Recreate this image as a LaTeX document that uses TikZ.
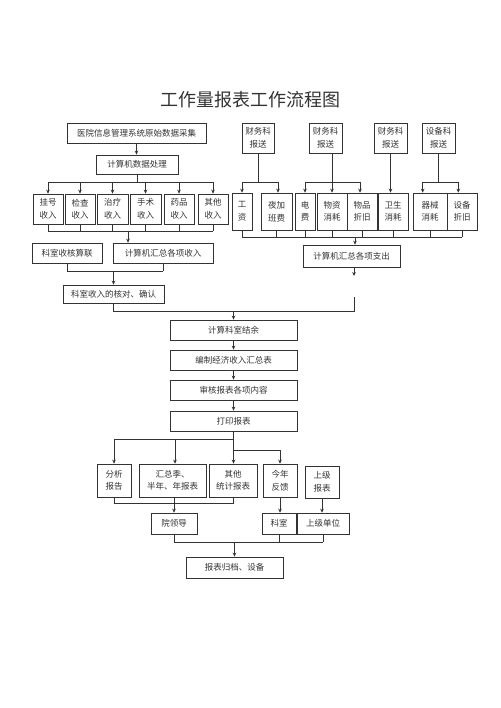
\documentclass[tikz,border=0pt]{standalone}
\usepackage{fontspec}
\newfontfamily\cjk{Noto Sans CJK SC}
\usetikzlibrary{arrows.meta}
\definecolor{ink}{gray}{0.2}
\tikzset{
  box/.style={draw=ink, line width=0.7pt, inner sep=0pt, align=center, text=ink,
    font=\cjk\fontsize{8.5}{12.5}\selectfont},
  arr/.style={-{Stealth[length=4pt,width=3.6pt]}}
}
\newcommand\mkbox[6]{\node[box,minimum width={(#4-#2)*1pt},minimum height={(#5-#3)*1pt}] (#1) at ({(#2+#4)/2},{(#3+#5)/2}) {#6};}
\begin{document}
\begin{tikzpicture}[x=1pt,y=-1pt,color=ink,line width=0.7pt]
\useasboundingbox (0,0) rectangle (500,708);
\node[text=ink, font=\cjk\fontsize{18}{20}\selectfont] (title) at (250,100) {工作量报表工作流程图};

% left income part
\mkbox{A}{67}{123}{206}{143}{医院信息管理系统原始数据采集}
\mkbox{B}{96}{155}{178}{174}{计算机数据处理}
\mkbox{i1}{33}{194}{63}{224}{挂号\\收入}
\mkbox{i2}{65}{194}{95}{224}{检查\\收入}
\mkbox{i3}{97}{194}{128}{224}{治疗\\收入}
\mkbox{i4}{130}{194}{161}{224}{手术\\收入}
\mkbox{i5}{164}{194}{194}{224}{药品\\收入}
\mkbox{i6}{198}{194}{228}{224}{其他\\收入}
\mkbox{k1}{32}{243}{102}{263}{科室收核算联}
\mkbox{k2}{113}{243}{213}{263}{计算机汇总各项收入}
\mkbox{k3}{63}{285}{164}{303}{科室收入的核对、确认}

% right expense part
\mkbox{f1}{242}{123}{274}{153}{财务科\\报送}
\mkbox{f2}{309}{123}{342}{153}{财务科\\报送}
\mkbox{f3}{374}{123}{407}{153}{财务科\\报送}
\mkbox{f4}{422}{123}{455}{153}{设备科\\报送}
\mkbox{e1}{232}{193}{252}{230}{工\\资}
\mkbox{e2}{261}{193}{292}{230}{夜加\\班费}
\mkbox{e3}{295}{193}{315}{230}{电\\费}
\mkbox{e4}{317}{193}{347}{230}{物资\\消耗}
\mkbox{e5}{347}{193}{377}{230}{物品\\折旧}
\mkbox{e6}{378}{193}{408}{230}{卫生\\消耗}
\mkbox{e7}{413}{193}{447}{230}{器械\\消耗}
\mkbox{e8}{447}{193}{477}{230}{设备\\折旧}
\mkbox{s1}{303}{245}{400}{267}{计算机汇总各项支出}
\coordinate (s1end) at (354,276);

% central chain
\mkbox{c1}{170}{320}{297}{340}{计算科室结余}
\mkbox{c2}{170}{350}{297}{370}{编制经济收入汇总表}
\mkbox{c3}{170}{380}{297}{400}{审核报表各项内容}
\mkbox{c4}{170}{411}{297}{431}{打印报表}

% report part
\mkbox{d1}{97}{464}{131}{497}{分析\\报告}
\mkbox{d2}{139}{464}{206}{497}{汇总季、\\半年、年报表}
\mkbox{d3}{209}{464}{257}{497}{其他\\统计报表}
\mkbox{d4}{263}{464}{297}{497}{今年\\反馈}
\mkbox{d5}{305}{466}{339}{498}{上级\\报表}
\mkbox{g1}{151}{513}{197}{534}{院领导}
\mkbox{g2}{262}{513}{296}{534}{科室}
\mkbox{g3}{297}{513}{349}{534}{上级单位}
\mkbox{h}{186}{557}{283}{578}{报表归档、设备}

% ---- connectors: income
\draw[arr] (A.south) -- (A.south |- B.north);
\draw (B.south) -- (B.south |- 0,182);
\draw (i1.north |- 0,182) -- (i6.north |- 0,182);
\foreach \n in {i1,i2,i3,i4,i5,i6} {
  \draw[arr] (\n.north |- 0,182) -- (\n.north);
  \draw (\n.south) -- (\n.south |- 0,231);
}
\draw (i1.south |- 0,231) -- (i6.south |- 0,231);
\draw[arr] (128,231) -- (k2.north -| 128,0);
\draw (k1.south) -- (k1.south |- 0,271);
\draw (k2.south) -- (k2.south |- 0,271);
\draw (k1.south |- 0,271) -- (k2.south |- 0,271);
\draw[arr] (k3.north |- 0,271) -- (k3.north);
\draw (k3.south) -- (k3.south |- 0,311) -- (354,311) -- (354,297);
\draw[arr] (c1.north |- 0,311) -- (c1.north);

% ---- connectors: expenses
\draw (f1.south) -- (f1.south |- 0,182);
\draw (e1.north |- 0,182) -- (278,182);
\draw[arr] (e1.north |- 0,182) -- (e1.north);
\draw[arr] (278,182) -- (e2.north -| 278,0);
\draw[arr] (f2.south -| e4.north) -- (e4.north);
\draw (e3.north |- 0,182) -- (360,182);
\draw[arr] (e3.north |- 0,182) -- (e3.north);
\draw[arr] (360,182) -- (e5.north -| 360,0);
\draw[arr] (f3.south) -- (f3.south |- e6.north);
\draw (f4.south) -- (f4.south |- 0,182);
\draw (422.7,182) -- (458.3,182);
\draw[arr] (422.7,182) -- (e7.north -| 422.7,0);
\draw[arr] (458.3,182) -- (e8.north -| 458.3,0);
\foreach \n in {e1,e2,e3,e4,e5,e6,e7,e8} {
  \draw (\n.south) -- (\n.south |- 0,237);
}
\draw (e1.south |- 0,237) -- (e8.south |- 0,237);
\draw[arr] (355,237) -- (s1.north -| 355,0);
\draw[arr] (s1.south -| s1end) -- (s1end);

% ---- central chain
\draw[arr] (c1.south) -- (c2.north);
\draw[arr] (c2.south) -- (c3.north);
\draw[arr] (c3.south) -- (c4.north);

% ---- reports
\draw (c4.south) -- (c4.south |- 0,439);
\draw (d1.north |- 0,439) -- (c4.south |- 0,439);
\draw[arr] (d1.north |- 0,439) -- (d1.north);
\draw[arr] (175,439) -- (d2.north -| 175,0);
\draw[arr] (c4.south |- 0,439) -- (c4.south |- d3.north);
\draw (c4.south |- 0,450) -- (d4.north |- 0,450);
\draw[arr] (d4.north |- 0,450) -- (d4.north);
\draw (d1.south) -- (d1.south |- 0,503) -- (d3.south |- 0,503) -- (d3.south);
\draw[arr] (d2.south -| g1.north) -- (g1.north);
\draw[arr] (d4.south) -- (d4.south |- g2.north);
\draw[arr] (d5.south) -- (d5.south |- g3.north);
\draw (g1.south) -- (g1.south |- 0,542);
\draw (g2.south) -- (g2.south |- 0,542);
\draw (g3.south) -- (g3.south |- 0,542);
\draw (g1.south |- 0,542) -- (g3.south |- 0,542);
\draw[arr] (h.north |- 0,542) -- (h.north);
\end{tikzpicture}
\end{document}
